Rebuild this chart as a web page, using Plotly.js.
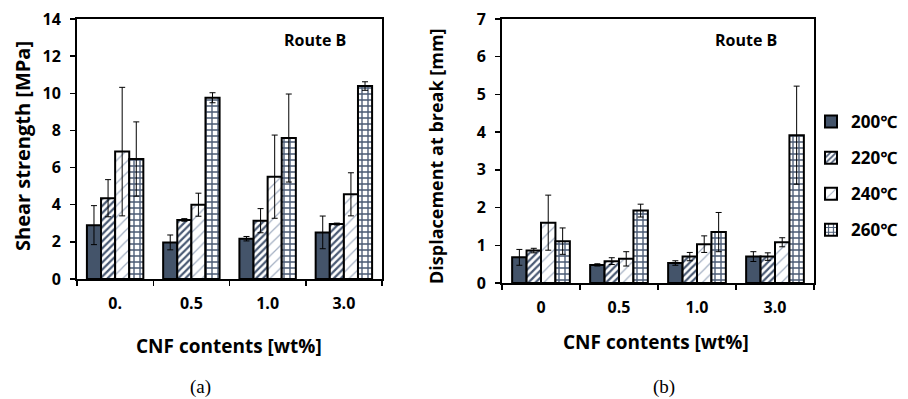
<!DOCTYPE html>
<html><head><meta charset="utf-8">
<script src="https://cdn.plot.ly/plotly-3.0.1.min.js"></script>
<style>html,body{margin:0;padding:0;background:#fff}#chart{width:908px;height:399px}</style>
</head><body><div id="chart"></div>
<script>
// ---- data ----
const categoriesA = ["0.", "0.5", "1.0", "3.0"];
const categoriesB = ["0", "0.5", "1.0", "3.0"];
const seriesNames = ["200℃", "220℃", "240℃", "260℃"];

// (a) Shear strength [MPa]
const shear200 = [2.90, 1.97, 2.17, 2.51];
const shear220 = [4.35, 3.18, 3.14, 2.96];
const shear240 = [6.86, 4.00, 5.51, 4.56];
const shear260 = [6.46, 9.76, 7.59, 10.39];
const shearErr200 = [1.05, 0.40, 0.12, 0.88];
const shearErr220 = [1.00, 0.07, 0.65, 0.05];
const shearErr240 = [3.46, 0.62, 2.24, 1.16];
const shearErr260 = [2.00, 0.27, 2.37, 0.23];

// (b) Displacement at break [mm]
const disp200 = [0.68, 0.48, 0.53, 0.70];
const disp220 = [0.86, 0.58, 0.70, 0.70];
const disp240 = [1.60, 0.64, 1.03, 1.08];
const disp260 = [1.11, 1.92, 1.35, 3.92];
const dispErr200 = [0.21, 0.03, 0.06, 0.13];
const dispErr220 = [0.06, 0.09, 0.11, 0.10];
const dispErr240 = [0.73, 0.19, 0.22, 0.12];
const dispErr260 = [0.35, 0.17, 0.52, 1.30];

// ---- styles ----
const FONT = "'Open Sans', 'Noto Sans', sans-serif";
const styles = [
  {color: "#44546A", pattern: {shape: ""}},
  {color: "#ffffff", pattern: {shape: "/", fgcolor: "#4A5A74", bgcolor: "#ffffff", fgopacity: 1, size: 5, solidity: 0.45, fillmode: "replace"}},
  {color: "#ffffff", pattern: {shape: "/", fgcolor: "#A3AFC2", bgcolor: "#ffffff", fgopacity: 1, size: 8, solidity: 0.15, fillmode: "replace"}},
  {color: "#ffffff", pattern: {shape: "+", fgcolor: "#4A5A74", bgcolor: "#ffffff", fgopacity: 1, size: 6, solidity: 0.4, fillmode: "replace"}}
];

function mk(x, y, err, i, xa, ya, showleg) {
  return {
    type: "bar", x: x, y: y, name: seriesNames[i], xaxis: xa, yaxis: ya,
    showlegend: showleg, legendgroup: "g" + i,
    marker: {color: styles[i].color, pattern: styles[i].pattern, line: {color: "#000", width: 2}},
    error_y: {type: "data", array: err, visible: true, color: "#000", thickness: 1, width: 3}
  };
}

const data = [
  mk(categoriesA, shear200, shearErr200, 0, "x", "y", false),
  mk(categoriesA, shear220, shearErr220, 1, "x", "y", false),
  mk(categoriesA, shear240, shearErr240, 2, "x", "y", false),
  mk(categoriesA, shear260, shearErr260, 3, "x", "y", false),
  mk(categoriesB, disp200, dispErr200, 0, "x2", "y2", true),
  mk(categoriesB, disp220, dispErr220, 1, "x2", "y2", true),
  mk(categoriesB, disp240, dispErr240, 2, "x2", "y2", true),
  mk(categoriesB, disp260, dispErr260, 3, "x2", "y2", true)
];

const W = 908, H = 399;
const tickFont = {family: FONT, size: 16, color: "#000", weight: "bold"};
function xax(domain, anchor) {
  return {domain: domain, anchor: anchor, type: "category", range: [-0.5, 3.5],
    showline: true, linecolor: "#000", linewidth: 2, mirror: true,
    ticks: "outside", ticklen: 5, tickwidth: 1.5, tickcolor: "#000", tickson: "boundaries",
    tickfont: tickFont, ticklabelstandoff: 9, showgrid: false, zeroline: false, fixedrange: true};
}
function yax(domain, anchor, max, dtick) {
  return {domain: domain, anchor: anchor, range: [0, max], dtick: dtick,
    showline: true, linecolor: "#000", linewidth: 2, mirror: true,
    ticks: "outside", ticklen: 5, tickwidth: 1.5, tickcolor: "#000",
    tickfont: tickFont, ticklabelstandoff: 6, showgrid: false, zeroline: false, fixedrange: true};
}

function ann(text, x, y, size, extra) {
  return Object.assign({text: text, xref: "paper", yref: "paper", x: x / W, y: 1 - y / H,
    xanchor: "center", yanchor: "middle", showarrow: false,
    font: {family: FONT, size: size, weight: "bold", color: "#000"}}, extra || {});
}

const layout = {
  width: W, height: H, margin: {l: 0, r: 0, t: 0, b: 0},
  paper_bgcolor: "#fff", plot_bgcolor: "#fff",
  barmode: "group", bargap: 0.26, bargroupgap: 0,
  font: {family: FONT, color: "#000"},
  xaxis: xax([77 / W, 382 / W], "y"),
  yaxis: yax([1 - 279 / H, 1 - 19 / H], "x", 14, 2),
  xaxis2: xax([502 / W, 814 / W], "y2"),
  yaxis2: yax([1 - 283 / H, 1 - 19 / H], "x2", 7, 1),
  showlegend: true,
  legend: {x: 811 / W, y: 1 - 104 / H, xanchor: "left", yanchor: "top",
    font: {family: FONT, size: 17, color: "#000", weight: "bold"},
    tracegroupgap: 11, bgcolor: "rgba(0,0,0,0)", itemwidth: 30, traceorder: "grouped"},
  annotations: [
    ann("Route B", 315, 40, 16),
    ann("Route B", 746, 40, 16),
    ann("Shear strength [MPa]", 22, 146, 20, {textangle: -90}),
    ann("Displacement at break [mm]", 436, 156, 18, {textangle: -90}),
    ann("CNF contents [wt%]", 229, 346, 19),
    ann("CNF contents [wt%]", 656, 342, 19),
    ann("(a)", 200, 387, 19, {font: {family: "'Liberation Serif', serif", size: 19, color: "#000"}}),
    ann("(b)", 664, 387, 19, {font: {family: "'Liberation Serif', serif", size: 19, color: "#000"}})
  ]
};

Plotly.newPlot("chart", data, layout, {staticPlot: true, displayModeBar: false});
</script></body></html>
